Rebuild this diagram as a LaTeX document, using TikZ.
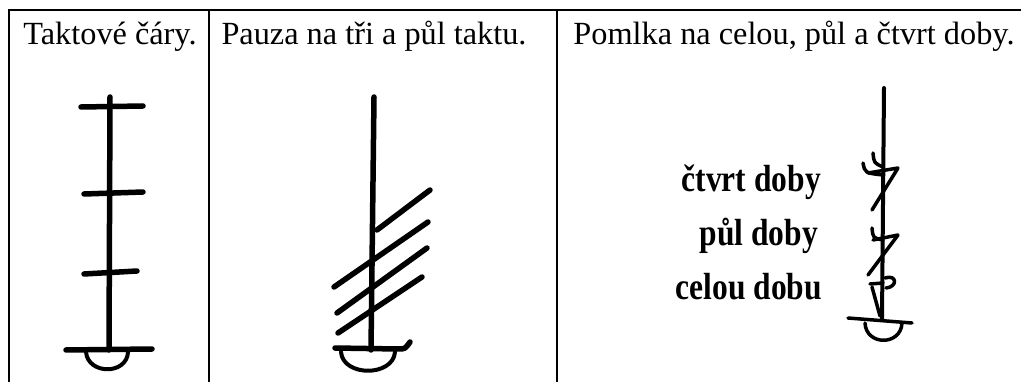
\documentclass[tikz,border=0pt]{standalone}
\usepackage{fontspec}
\usepackage{graphicx}
\setmainfont{Liberation Serif}
\begin{document}
\begin{tikzpicture}[x=1pt,y=-1pt,
  grid/.style={line width=2pt},
  ink/.style={line width=5.5pt,line cap=round,line join=round},
  thinink/.style={line width=4pt,line cap=round,line join=round},
  flag/.style={line width=3.5pt,line cap=round,line join=round},
  head/.style={font=\fontsize{32.3}{37}\selectfont,inner sep=0pt,anchor=base},
  lab/.style={inner sep=0pt,anchor=base east}]
\useasboundingbox (0,0) rectangle (1021,382);
% table
\draw[grid] (9,382) -- (9,10) -- (1021,10);
\draw[grid] (209,10) -- (209,382);
\draw[grid] (557,10) -- (557,382);
% headers
\node[head] (h1) at (110,45) {Taktové čáry.};
\node[head] (h2) at (374,45) {Pauza na tři a půl taktu.};
\node[head] (h3) at (794,45) {Pomlka na celou, půl a čtvrt doby.};
% labels
\node[lab] (l1) at (821,192) {\scalebox{1}[1.2]{\fontsize{31.5}{36}\bfseries\selectfont čtvrt doby}};
\node[lab] (l2) at (818,246) {\scalebox{1}[1.2]{\fontsize{31.5}{36}\bfseries\selectfont půl doby}};
\node[lab] (l3) at (822,300) {\scalebox{1}[1.2]{\fontsize{31.5}{36}\bfseries\selectfont celou dobu}};
% symbol 1
\draw[ink] (110,97) -- (109,350);
\draw[ink] (81,107) -- (143,106);
\draw[ink] (84,194) -- (143,192);
\draw[ink] (84,274) -- (137,271);
\draw[ink] (66,350) -- (152,349);
\draw[thinink] (86,352) .. controls (88,375) and (127,375) .. (128,352);
% symbol 2
\draw[ink] (374,97) -- (371,350);
\draw[ink] (377,230) -- (430,190);
\draw[ink] (334,287) -- (428,222);
\draw[ink] (337,313) -- (427,248);
\draw[ink] (338,333) -- (422,277);
\draw[ink] (335,348) -- (398,349) .. controls (405,349) .. (410,342);
\draw[thinink] (341,352) .. controls (343,377) and (393,377) .. (395,352);
% symbol 3
\draw[ink,line width=4pt] (884,88) -- (882,320);
\draw[flag] (873,153) .. controls (874,163) .. (883,167);
\draw[flag] (863,163) .. controls (865,173) .. (883,175);
\draw[flag] (868,173) -- (898,168) -- (872,210);
\draw[flag] (872,228) .. controls (873,238) .. (883,240);
\draw[flag] (873,240) -- (898,235) -- (868,275);
\draw[flag] (870,284) -- (883,283);
\draw[flag] (885,278) .. controls (897,274) and (898,287) .. (886,288);
\draw[flag] (872,287) -- (880,316);
\draw[flag] (848,318) -- (912,323);
\draw[flag] (865,323) .. controls (866,346) and (901,346) .. (902,323);
\end{tikzpicture}
\end{document}
